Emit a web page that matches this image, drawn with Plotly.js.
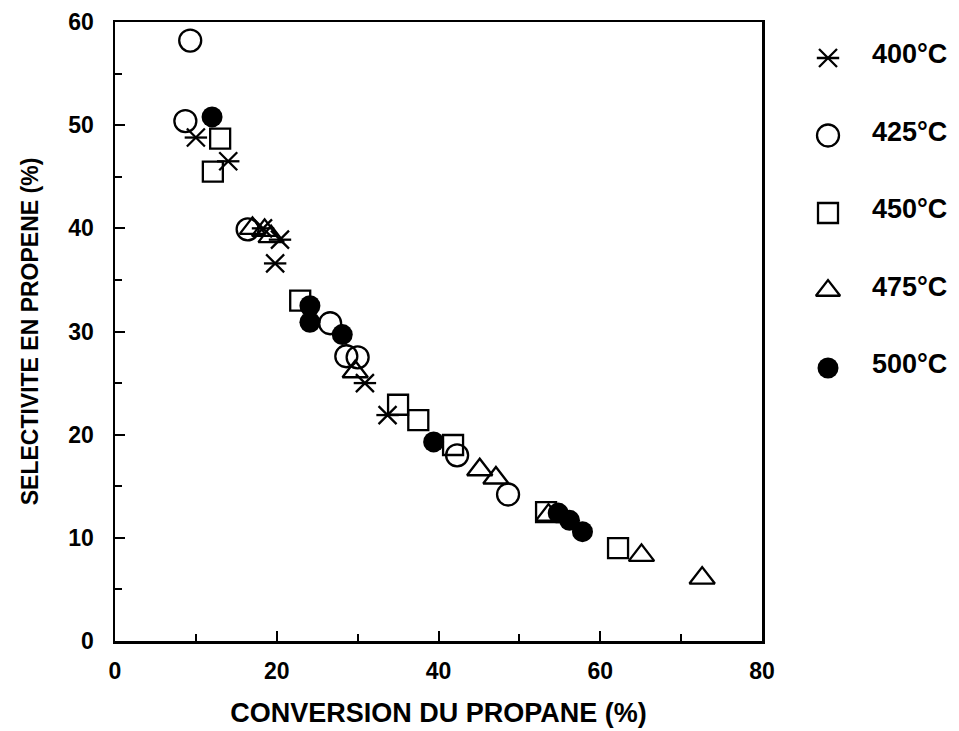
<!DOCTYPE html>
<html>
<head>
<meta charset="utf-8">
<script src="https://cdn.plot.ly/plotly-3.0.1.min.js"></script>
<style>html,body{margin:0;padding:0;background:#fff;}#chart{width:959px;height:731px;}</style>
</head>
<body>
<div id="chart"></div>
<script>
// Conversion du propane (%) and selectivite en propene (%) per temperature
const labels = ['400°C', '425°C', '450°C', '475°C', '500°C'];

const x400 = [10.0, 14.0, 18.3, 20.4, 19.8, 30.9, 33.7];
const y400 = [48.8, 46.5, 40.0, 38.9, 36.6, 25.0, 21.9];

const x425 = [9.3, 8.7, 16.4, 26.6, 28.6, 30.0, 42.3, 48.6];
const y425 = [58.2, 50.4, 39.9, 30.8, 27.6, 27.5, 18.0, 14.2];

const x450 = [13.0, 12.1, 22.9, 35.0, 37.5, 41.8, 53.3, 62.2];
const y450 = [48.7, 45.5, 33.0, 22.9, 21.4, 19.0, 12.5, 9.0];

const x475 = [17.0, 18.5, 19.3, 29.7, 45.1, 47.1, 53.6, 65.1, 72.6];
const y475 = [40.0, 39.8, 39.2, 26.1, 16.6, 15.8, 12.2, 8.3, 6.1];

const x500 = [12.0, 24.1, 24.1, 28.1, 39.4, 54.8, 56.2, 57.8];
const y500 = [50.8, 32.5, 30.9, 29.7, 19.3, 12.4, 11.7, 10.6];

const FONT = 'Liberation Sans, Arial, Helvetica, sans-serif';
const lineW = 2.3;

function openTrace(x, y, symbol, size) {
  return {
    type: 'scatter', mode: 'markers', x: x, y: y, showlegend: false,
    marker: {symbol: symbol, size: size, color: '#000', line: {color: '#000', width: lineW}},
    hoverinfo: 'x+y'
  };
}

const traces = [
  openTrace(x400, y400, 'x-thin-open', 18),
  openTrace(x400, y400, 'line-ew-open', 16),
  openTrace(x425, y425, 'circle-open', 22),
  openTrace(x450, y450, 'square-open', 20),
  openTrace(x475, y475, 'triangle-up-open', 22),
  {type: 'scatter', mode: 'markers', x: x500, y: y500, showlegend: false,
   marker: {symbol: 'circle', size: 21, color: '#000', line: {color: '#000', width: 0}}}
];

// manual legend on a hidden second axis pair
const legIdx = [0, 1, 2, 3, 4];
function legTrace(i, symbol, size, filled) {
  return {
    type: 'scatter', mode: 'markers', xaxis: 'x2', yaxis: 'y2', showlegend: false,
    x: [0], y: [legIdx[i]], hoverinfo: 'skip',
    marker: {symbol: symbol, size: size, color: '#000',
      line: {color: '#000', width: filled ? 0 : lineW}}
  };
}
traces.push(legTrace(0, 'x-thin-open', 18, false));
traces.push(legTrace(0, 'line-ew-open', 16, false));
traces.push(legTrace(1, 'circle-open', 22, false));
traces.push(legTrace(2, 'square-open', 20, false));
traces.push(legTrace(3, 'triangle-up-open', 21, false));
traces.push(legTrace(4, 'circle', 21, true));

const annotations = labels.map((t, i) => ({
  xref: 'x2', yref: 'y2', x: 0.93, y: legIdx[i], xanchor: 'left', yanchor: 'middle',
  yshift: 4, showarrow: false, text: t,
  font: {family: FONT, size: 27, color: '#000', weight: 'bold'}
}));

const layout = {
  width: 959, height: 731,
  margin: {l: 115, r: 0, t: 22, b: 90},
  paper_bgcolor: '#fff', plot_bgcolor: '#fff',
  font: {family: FONT, color: '#000'},
  xaxis: {
    domain: [0, 0.7666],
    range: [0, 80], tickvals: [0, 20, 40, 60, 80],
    ticks: 'inside', ticklen: 10, tickwidth: 2, tickcolor: '#000',
    minor: {tickvals: [10, 30, 50, 70], ticks: 'inside', ticklen: 7, tickwidth: 2, tickcolor: '#000'},
    showline: true, linewidth: 2.5, linecolor: '#000', mirror: true,
    showgrid: false, zeroline: false,
    ticklabelstandoff: 8,
    tickfont: {family: FONT, size: 23, color: '#000', weight: 'bold'},
    title: {text: 'CONVERSION DU PROPANE (%)', standoff: 20,
      font: {family: FONT, size: 27, color: '#000', weight: 'bold'}}
  },
  yaxis: {
    range: [0, 60], tickvals: [0, 10, 20, 30, 40, 50, 60],
    ticks: 'inside', ticklen: 10, tickwidth: 2, tickcolor: '#000',
    minor: {tickvals: [5, 15, 25, 35, 45, 55], ticks: 'inside', ticklen: 7, tickwidth: 2, tickcolor: '#000'},
    showline: true, linewidth: 2.5, linecolor: '#000', mirror: true,
    showgrid: false, zeroline: false,
    ticklabelstandoff: 14,
    tickfont: {family: FONT, size: 23, color: '#000', weight: 'bold'},
    title: {text: 'SELECTIVITE EN PROPENE (%)', standoff: 24,
      font: {family: FONT, size: 23, color: '#000', weight: 'bold'}}
  },
  xaxis2: {domain: [0.8, 1.0], range: [-0.84, 2.91], visible: false, anchor: 'y2', fixedrange: true},
  yaxis2: {domain: [0, 1], range: [7.522, -0.4645], visible: false, anchor: 'x2', fixedrange: true},
  annotations: annotations,
  showlegend: false
};

Plotly.newPlot('chart', traces, layout, {displayModeBar: false, staticPlot: true});
</script>
</body>
</html>
